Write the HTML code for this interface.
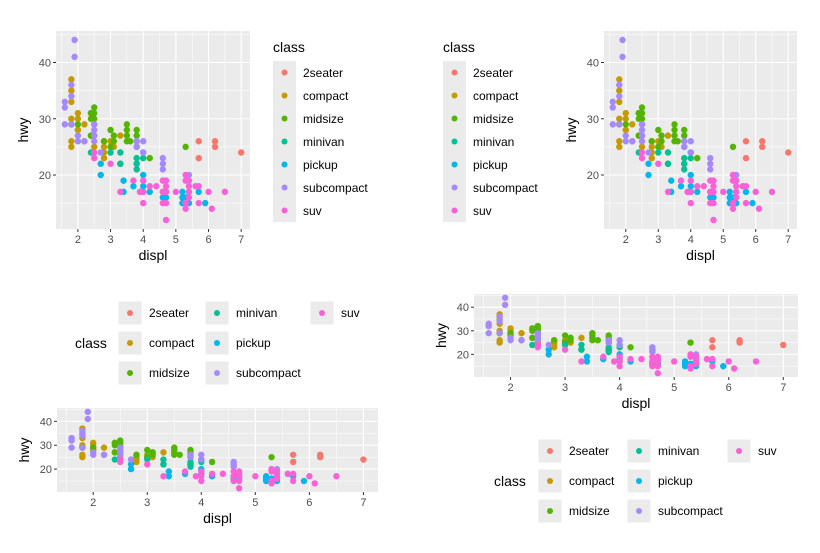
<!DOCTYPE html>
<html><head><meta charset="utf-8"><style>
body{margin:0;background:#fff;}
svg{display:block;font-family:"Liberation Sans",sans-serif;}
</style></head><body>
<svg id="chart" width="820" height="553" viewBox="0 0 820 553"></svg>
<script>
const classes=["2seater","compact","midsize","minivan","pickup","subcompact","suv"];
const colors=["#F8766D","#C49A00","#53B400","#00C094","#00B6EB","#A58AFF","#FB61D7"];
const xTicks=[2,3,4,5,6,7];
const yTicks=[20,30,40];
const displ=[5.7,5.7,6.2,6.2,7.0,
1.8,1.8,2.0,2.0,2.8,3.1,1.8,1.8,2.0,2.8,3.1,2.2,2.2,2.4,2.4,3.0,1.8,1.8,1.8,2.5,2.8,2.8,2.5,3.3,2.0,2.5,
2.4,2.4,3.1,3.8,3.8,5.3,2.5,2.5,2.4,3.0,3.5,3.5,3.5,3.6,2.8,3.1,1.8,2.0,3.0,3.5,3.8,4.2,2.5,3.8,
2.4,3.0,3.3,3.3,3.3,3.8,3.8,3.8,4.0,4.0,3.8,
2.7,2.7,3.4,3.4,3.7,4.0,4.0,4.0,4.2,4.6,4.7,4.7,5.2,5.2,5.4,5.2,5.7,5.9,4.6,5.4,5.3,
1.6,1.6,1.6,1.8,1.8,1.9,1.9,2.0,2.0,2.2,2.5,2.5,2.5,2.5,2.7,3.8,3.8,4.0,4.0,4.6,4.6,4.6,5.4,1.8,
2.5,2.5,3.0,3.3,3.7,3.9,4.0,4.0,4.0,4.2,4.4,4.6,4.6,4.6,4.7,4.7,4.7,4.7,5.0,5.3,5.3,5.3,5.3,5.4,5.4,5.4,5.6,5.7,5.7,6.0,6.1,6.5,4.7,5.4];
const hwy=[26,23,26,25,24,
29,30,31,28,26,27,26,25,28,25,25,26,29,27,31,26,37,35,33,27,24,23,25,27,30,29,
27,30,26,26,28,25,32,31,31,28,29,26,28,26,26,27,29,29,25,27,27,23,30,25,
24,24,22,22,24,22,21,23,23,24,22,
20,22,17,19,18,17,18,20,17,16,17,16,15,16,15,17,17,15,17,17,16,
33,32,29,34,36,44,41,26,27,26,29,28,27,26,24,26,25,26,24,23,22,21,20,29,
24,23,22,17,19,17,17,19,15,18,18,19,17,15,19,17,15,12,17,20,19,14,15,18,17,16,18,18,15,17,14,17,18,19];
const cls=[0,0,0,0,0,
1,1,1,1,1,1,1,1,1,1,1,1,1,1,1,1,1,1,1,1,1,1,1,1,1,1,
2,2,2,2,2,2,2,2,2,2,2,2,2,2,2,2,2,2,2,2,2,2,2,2,
3,3,3,3,3,3,3,3,3,3,3,
4,4,4,4,4,4,4,4,4,4,4,4,4,4,4,4,4,4,4,4,4,
5,5,5,5,5,5,5,5,5,5,5,5,5,5,5,5,5,5,5,5,5,5,5,5,
6,6,6,6,6,6,6,6,6,6,6,6,6,6,6,6,6,6,6,6,6,6,6,6,6,6,6,6,6,6,6,6,6,6];

const svg=document.getElementById('chart');
const NS='http://www.w3.org/2000/svg';
function mk(tag,attrs,parent,text){const e=document.createElementNS(NS,tag);for(const k in attrs)e.setAttribute(k,attrs[k]);if(text!==undefined)e.textContent=text;parent.appendChild(e);return e;}
const XMIN=1.33,XMAX=7.27,YMIN=10.4,YMAX=45.6;

function panel(name,L,R,T,B,r){
  const g=mk('g',{},svg);
  
  
  const sx=v=>L+(v-XMIN)/(XMAX-XMIN)*(R-L);
  const sy=v=>B-(v-YMIN)/(YMAX-YMIN)*(B-T);
  const bg=mk('rect',{x:L,y:T,width:R-L,height:B-T,fill:'#EBEBEB'},g);
  
  
  [1.5,2.5,3.5,4.5,5.5,6.5].forEach(v=>mk('line',{x1:sx(v),x2:sx(v),y1:T,y2:B,stroke:'#fff','stroke-width':0.5},g));
  [15,25,35,45].forEach(v=>mk('line',{x1:L,x2:R,y1:sy(v),y2:sy(v),stroke:'#fff','stroke-width':0.5},g));
  xTicks.forEach(v=>{mk('line',{x1:sx(v),x2:sx(v),y1:T,y2:B,stroke:'#fff','stroke-width':1.1},g);
    mk('line',{x1:sx(v),x2:sx(v),y1:B,y2:B+3,stroke:'#333','stroke-width':1},g);
    const t=mk('text',{x:sx(v),y:B+14,'text-anchor':'middle','font-size':11,fill:'#4D4D4D'},g,String(v));
    
    });
  yTicks.forEach(v=>{mk('line',{x1:L,x2:R,y1:sy(v),y2:sy(v),stroke:'#fff','stroke-width':1.1},g);
    mk('line',{x1:L-3,x2:L,y1:sy(v),y2:sy(v),stroke:'#333','stroke-width':1},g);
    const t=mk('text',{x:L-5,y:sy(v)+4,'text-anchor':'end','font-size':11,fill:'#4D4D4D'},g,String(v));
    
    });
  for(let i=0;i<displ.length;i++){
    const c=mk('circle',{cx:sx(displ[i]),cy:sy(hwy[i]),r:r,fill:colors[cls[i]]},g);
    
    
  }
  const xt=mk('text',{x:(L+R)/2,y:B+31,'text-anchor':'middle','font-size':14,fill:'#000'},g,'displ');
  
  
  const yt=mk('text',{x:0,y:0,'text-anchor':'middle','font-size':14,fill:'#000',transform:`translate(${L-28},${(T+B)/2}) rotate(-90)`},g,'hwy');
  
  
}
function vlegend(name,x,y){
  const g=mk('g',{},svg);
  
  
  const t=mk('text',{x:x,y:y,'font-size':14,fill:'#000'},g,'class');
  
  
  classes.forEach((c,i)=>{
    const ky=y+9+i*23;
    mk('rect',{x:x,y:ky,width:23,height:23,fill:'#EBEBEB'},g);
    const d=mk('circle',{cx:x+11.5,cy:ky+11.5,r:3,fill:colors[i]},g);
    
    
    const tx=mk('text',{x:x+30,y:ky+16,'font-size':12,fill:'#000'},g,c);
    
    
  });
}
function hlegend(name,tx,rowY,colX){
  const g=mk('g',{},svg);
  
  
  const t=mk('text',{x:tx,y:rowY+30+5,'font-size':14,fill:'#000'},g,'class');
  
  
  classes.forEach((c,i)=>{
    const col=Math.floor(i/3),row=i%3;
    const kx=colX[col],ky=rowY+row*30;
    mk('rect',{x:kx-11.5,y:ky-11.5,width:23,height:23,fill:'#EBEBEB'},g);
    const d=mk('circle',{cx:kx,cy:ky,r:3,fill:colors[i]},g);
    
    
    const tt=mk('text',{x:kx+19,y:ky+4,'font-size':12,fill:'#000'},g,c);
    
    
  });
}
panel('panel-legend-right',56,250,31,229,3.2);
vlegend('legend-right',273,52);
panel('panel-legend-left',604,797,31,229,3.2);
vlegend('legend-left',443,52);
panel('panel-legend-top',57,378,408,492,3.2);
hlegend('legend-top',75,313,[130,217,322]);
panel('panel-legend-bottom',474,798,294,377,3.2);
hlegend('legend-bottom',494,451,[550,639,739]);
</script>
</body></html>
